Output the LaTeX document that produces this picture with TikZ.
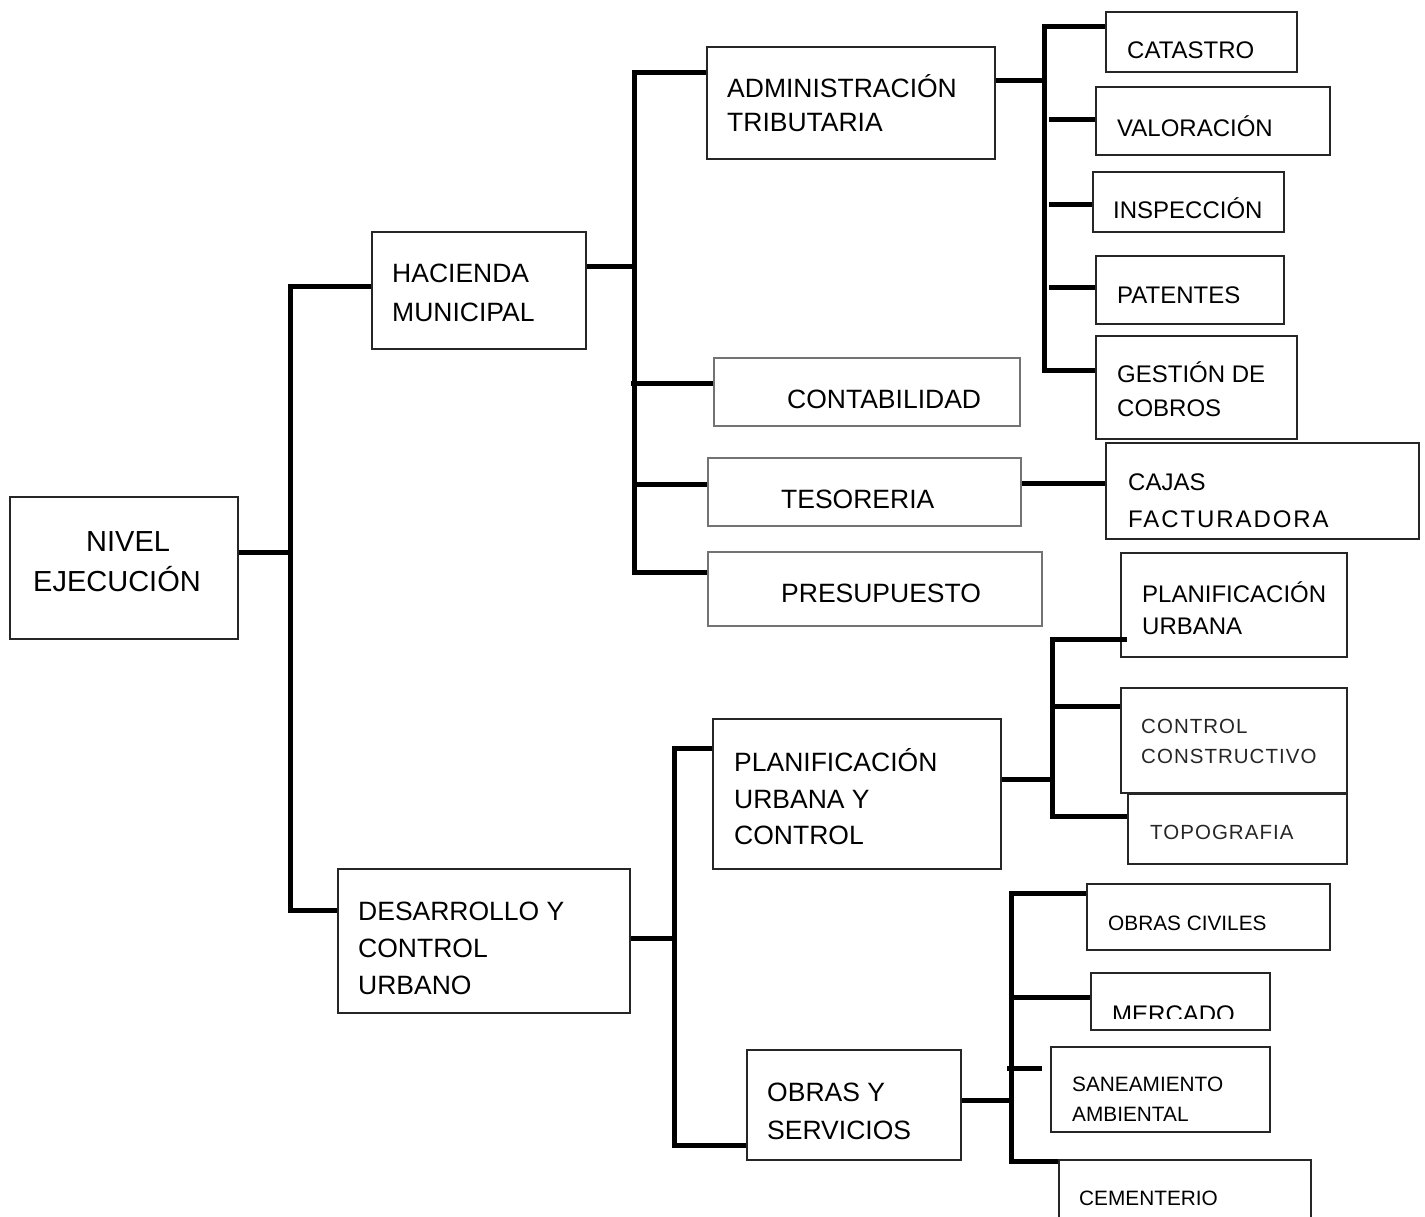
\documentclass[tikz,border=0pt]{standalone}
\usepackage{fontspec}
\setmainfont{Liberation Sans}
\usetikzlibrary{fit}
\tikzset{
  box/.style={draw=black!85, line width=2pt, inner sep=0pt},
  lbox/.style={draw=black!55, line width=1.5pt, inner sep=0pt},
  conn/.style={line width=5pt, line join=miter},
  huge/.style={font=\fontsize{29}{33}\selectfont, inner sep=0pt, anchor=base west},
  big/.style={font=\fontsize{26.5}{30}\selectfont, inner sep=0pt, anchor=base west},
  mid/.style={font=\fontsize{24}{28}\selectfont, inner sep=0pt, anchor=base west},
  sml/.style={font=\fontsize{20.8}{24}\selectfont, inner sep=0pt, anchor=base west},
  sps/.style={font=\fontsize{20.5}{24}\selectfont\addfontfeature{LetterSpace=5}, inner sep=0pt, anchor=base west, text=black!85},
  wide/.style={font=\fontsize{24}{28}\selectfont\addfontfeature{LetterSpace=8}, inner sep=0pt, anchor=base west},
}
\begin{document}
\begin{tikzpicture}[x=1pt,y=-1pt]
\useasboundingbox (0,0) rectangle (1425,1217);
\clip (0,0) rectangle (1425,1217);

% ---------- boxes ----------
\node[box, fit={(10,497) (238,639)}] (nivel) {};
\node[huge] (nivel1) at (86,551) {NIVEL};
\node[huge] (nivel2) at (33,591) {EJECUCIÓN};

\node[box, fit={(372,232) (586,349)}] (hac) {};
\node[big] (hac1) at (392,283) {HACIENDA};
\node[big] (hac2) at (392,321) {MUNICIPAL};

\node[box, fit={(338,869) (630,1013)}] (des) {};
\node[big] (des1) at (358,920) {DESARROLLO Y};
\node[big] (des2) at (358,957) {CONTROL};
\node[big] (des3) at (358,994) {URBANO};

\node[box, fit={(707,47) (995,159)}] (adm) {};
\node[big] (adm1) at (727,98) {ADMINISTRACIÓN};
\node[big] (adm2) at (727,132) {TRIBUTARIA};

\node[lbox, fit={(714,358) (1020,426)}] (cont) {};
\node[big] (cont1) at (787,408.5) {CONTABILIDAD};

\node[lbox, fit={(708,458) (1021,526)}] (tes) {};
\node[big] (tes1) at (781,508.5) {TESORERIA};

\node[lbox, fit={(708,552) (1042,626)}] (pres) {};
\node[big] (pres1) at (781,602.5) {PRESUPUESTO};

\node[box, fit={(1106,12) (1297,72)}] (cat) {};
\node[mid] (cat1) at (1127,59) {CATASTRO};

\node[box, fit={(1096,87) (1330,155)}] (val) {};
\node[mid] (val1) at (1117,137) {VALORACIÓN};

\node[box, fit={(1093,172) (1284,232)}] (insp) {};
\node[mid] (insp1) at (1113,218.5) {INSPECCIÓN};

\node[box, fit={(1096,256) (1284,324)}] (pat) {};
\node[mid] (pat1) at (1117,303.5) {PATENTES};

\node[box, fit={(1096,336) (1297,439)}] (ges) {};
\node[mid] (ges1) at (1117,382.5) {GESTIÓN DE};
\node[mid] (ges2) at (1117,416.5) {COBROS};

\node[box, fit={(1106,443) (1419,539)}] (caj) {};
\node[mid] (caj1) at (1128,490) {CAJAS};
\node[wide] (caj2) at (1128,527) {FACTURADORA};

\node[box, fit={(713,719) (1001,869)}] (puc) {};
\node[big] (puc1) at (734,771) {PLANIFICACIÓN};
\node[big] (puc2) at (734,808) {URBANA Y};
\node[big] (puc3) at (734,844) {CONTROL};

\node[box, fit={(1121,553) (1347,657)}] (pu) {};
\node[mid] (pu1) at (1142,602) {PLANIFICACIÓN};
\node[mid] (pu2) at (1142,634) {URBANA};

\node[box, fit={(1121,688) (1347,793)}] (cc) {};
\node[sps] (cc1) at (1141,733) {CONTROL};
\node[sps] (cc2) at (1141,763) {CONSTRUCTIVO};

\node[box, fit={(1128,794) (1347,864)}] (topo) {};
\node[sps] (topo1) at (1150,839) {TOPOGRAFIA};

\node[box, fit={(747,1050) (961,1160)}] (oys) {};
\node[big] (oys1) at (767,1101) {OBRAS Y};
\node[big] (oys2) at (767,1139) {SERVICIOS};

\node[box, fit={(1087,884) (1330,950)}] (oc) {};
\node[sml] (oc1) at (1108,930) {OBRAS CIVILES};

\node[box, fit={(1091,973) (1270,1030)}] (mer) {};
\begin{scope}
  \clip (1091,973) rectangle (1270,1018);
  \node[mid] (mer1) at (1112,1022) {MERCADO};
\end{scope}

\node[box, fit={(1051,1047) (1270,1132)}] (san) {};
\node[sml] (san1) at (1072,1091) {SANEAMIENTO};
\node[sml] (san2) at (1072,1121) {AMBIENTAL};

\node[box, fit={(1059,1160) (1311,1240)}] (cem) {};
\node[sml] (cem1) at (1079,1205) {CEMENTERIO};

% ---------- junction points ----------
\coordinate (j1a) at (290,287);
\coordinate (j1b) at (290,910);
\coordinate (j1c) at (290,552);

\coordinate (j2a) at (634,73);
\coordinate (j2b) at (634,572);
\coordinate (j2c) at (634,267);
\coordinate (j2d) at (631,383);
\coordinate (j2e) at (634,484);

\coordinate (j3a) at (1044,27);
\coordinate (j3b) at (1044,370);
\coordinate (j3c) at (1044,81);
\coordinate (j3d) at (1049,120);
\coordinate (j3e) at (1049,205);
\coordinate (j3f) at (1049,288);

\coordinate (j4) at (1060,483);

\coordinate (j5a) at (674,748);
\coordinate (j5b) at (674,1145);
\coordinate (j5c) at (674,938);

\coordinate (j6a) at (1052,639);
\coordinate (j6b) at (1052,816);
\coordinate (j6c) at (1052,779);
\coordinate (j6d) at (1052,706);
\coordinate (j6e) at (1127,639);

\coordinate (j7a) at (1011,893);
\coordinate (j7b) at (1011,1161);
\coordinate (j7c) at (1011,1100);
\coordinate (j7d) at (1011,997);
\coordinate (j7e) at (1007,1068);
\coordinate (j7f) at (1042,1068);

% ---------- connectors ----------
\draw[conn] (hac.west |- j1a) -- (j1a) -- (j1b) -- (des.west |- j1b);
\draw[conn] (nivel.east |- j1c) -- (j1c);

\draw[conn] (adm.west |- j2a) -- (j2a) -- (j2b) -- (pres.west |- j2b);
\draw[conn] (hac.east |- j2c) -- (j2c);
\draw[conn] (j2d) -- (cont.west |- j2d);
\draw[conn] (j2e) -- (tes.west |- j2e);

\draw[conn] (cat.west |- j3a) -- (j3a) -- (j3b) -- (ges.west |- j3b);
\draw[conn] (adm.east |- j3c) -- (j3c);
\draw[conn] (j3d) -- (val.west |- j3d);
\draw[conn] (j3e) -- (insp.west |- j3e);
\draw[conn] (j3f) -- (pat.west |- j3f);

\draw[conn] (tes.east |- j4) -- (caj.west |- j4);

\draw[conn] (puc.west |- j5a) -- (j5a) -- (j5b) -- (oys.west |- j5b);
\draw[conn] (des.east |- j5c) -- (j5c);

\draw[conn] (j6e) -- (j6a) -- (j6b) -- (topo.west |- j6b);
\draw[conn] (puc.east |- j6c) -- (j6c);
\draw[conn] (j6d) -- (cc.west |- j6d);

\draw[conn] (oc.west |- j7a) -- (j7a) -- (j7b) -- (cem.west |- j7b);
\draw[conn] (oys.east |- j7c) -- (j7c);
\draw[conn] (j7d) -- (mer.west |- j7d);
\draw[conn] (j7e) -- (j7f);
\end{tikzpicture}
\end{document}
